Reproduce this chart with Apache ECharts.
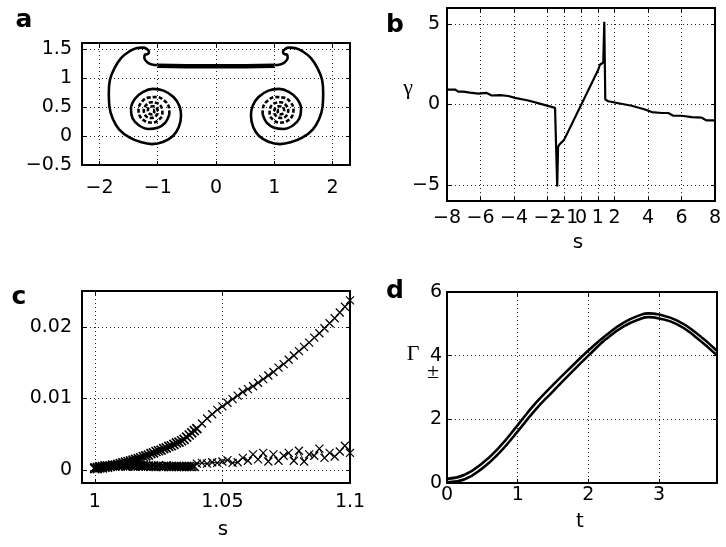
<!DOCTYPE html>
<html>
<head>
<meta charset="utf-8">
<script src="https://cdn.jsdelivr.net/npm/echarts@6.0.0/dist/echarts.min.js"></script>
<style>
  html, body { margin: 0; padding: 0; background: #fff; }
  #chart { width: 726px; height: 547px; }
</style>
</head>
<body>
<div id="chart"></div>
<script>
// ---- panel a: vortex sheet (left half, right half is its mirror image) ----
const sheetBar = [[-1.0, 1.21], [-0.5, 1.2], [0, 1.2], [0.5, 1.2], [1.0, 1.21]];
const leftArm = [
  [-1.0, 1.22], [-1.1, 1.23], [-1.18, 1.27], [-1.23, 1.34], [-1.22, 1.4], [-1.17, 1.41],
  [-1.15, 1.45], [-1.19, 1.5], [-1.26, 1.52], [-1.37, 1.51], [-1.48, 1.46], [-1.63, 1.34],
  [-1.74, 1.17], [-1.82, 0.97], [-1.84, 0.74], [-1.83, 0.51], [-1.77, 0.29], [-1.66, 0.11],
  [-1.48, -0.03], [-1.28, -0.11], [-1.1, -0.14], [-0.9, -0.1], [-0.74, 0.0], [-0.64, 0.15],
  [-0.6, 0.35], [-0.63, 0.52], [-0.73, 0.67], [-0.9, 0.78], [-1.08, 0.81], [-1.25, 0.76],
  [-1.39, 0.64], [-1.46, 0.47], [-1.43, 0.3], [-1.32, 0.18], [-1.16, 0.12], [-1.0, 0.14],
  [-0.87, 0.23], [-0.8, 0.37]
];
const leftCoil = [
  [-0.8, 0.37], [-0.81, 0.5], [-0.89, 0.61], [-1.02, 0.67], [-1.16, 0.66], [-1.28, 0.58],
  [-1.33, 0.45], [-1.3, 0.33], [-1.21, 0.25], [-1.09, 0.23], [-0.98, 0.28], [-0.92, 0.38],
  [-0.93, 0.48], [-1.0, 0.56], [-1.11, 0.58], [-1.2, 0.53], [-1.24, 0.44], [-1.21, 0.35],
  [-1.13, 0.31], [-1.05, 0.33], [-1.0, 0.4], [-1.01, 0.47], [-1.07, 0.51], [-1.14, 0.5],
  [-1.17, 0.44], [-1.14, 0.38], [-1.09, 0.37], [-1.06, 0.41], [-1.08, 0.45], [-1.11, 0.44],
  [-1.11, 0.43]
];
const aTicksX = [-2, -1, 0, 1, 2];
const aTicksY = [-0.5, 0, 0.5, 1, 1.5];

// ---- panel b: gamma(s) ----
const gammaS = [-8, -7.52, -7.33, -7.03, -6.63, -6.13, -5.63, -5.33, -4.84, -4.34, -3.94, -3.15,
  -2.35, -1.55, -1.45, -1.42, -1.37, -1.3, -1.21, -1.01, 1.03, 1.13, 1.33, 1.37, 1.39, 1.45,
  1.63, 2.23, 3.03, 3.82, 4.22, 4.82, 5.21, 5.51, 6.01, 6.61, 7.21, 7.5, 8];
const gammaV = [0.93, 0.93, 0.8, 0.8, 0.74, 0.68, 0.72, 0.56, 0.58, 0.53, 0.41, 0.25,
  0.02, -0.21, -0.26, -5.1, -2.65, -2.5, -2.41, -2.2, 2.16, 2.47, 2.61, 2.65, 5.14, 0.31,
  0.2, 0.08, -0.08, -0.31, -0.47, -0.53, -0.53, -0.7, -0.7, -0.78, -0.82, -0.99, -0.99];
const bTicksX = [-8, -6, -4, -2, -1, 0, 1, 2, 4, 6, 8];
const bTicksY = [-5, 0, 5];

// ---- panel c: two error curves vs s (fine steps up to 1.04, coarse after) ----
const cS = [1.000, 1.001, 1.002, 1.003, 1.004, 1.005, 1.006, 1.007, 1.008, 1.009,
  1.010, 1.011, 1.012, 1.013, 1.014, 1.015, 1.016, 1.017, 1.018, 1.019,
  1.020, 1.021, 1.022, 1.023, 1.024, 1.025, 1.026, 1.027, 1.028, 1.029,
  1.030, 1.031, 1.032, 1.033, 1.034, 1.035, 1.036, 1.037, 1.038, 1.039, 1.040,
  1.042, 1.044, 1.046, 1.048, 1.050, 1.052, 1.054, 1.056, 1.058, 1.060,
  1.062, 1.064, 1.066, 1.068, 1.070, 1.072, 1.074, 1.076, 1.078, 1.080,
  1.082, 1.084, 1.086, 1.088, 1.090, 1.092, 1.094, 1.096, 1.098, 1.100];
const cUpper = [0.0002, 0.0002, 0.0003, 0.0003, 0.0004, 0.0004, 0.0005, 0.0006, 0.0007, 0.0008,
  0.0009, 0.0010, 0.0011, 0.0012, 0.0013, 0.0014, 0.0015, 0.0016, 0.0017, 0.0019,
  0.0020, 0.0021, 0.0023, 0.0024, 0.0026, 0.0027, 0.0028, 0.0030, 0.0031, 0.0033,
  0.0034, 0.0036, 0.0038, 0.0039, 0.0041, 0.0043, 0.0046, 0.0049, 0.0052, 0.0055, 0.0058,
  0.0065, 0.0072, 0.0078, 0.0084, 0.0089, 0.0094, 0.0099, 0.0104, 0.0109, 0.0113,
  0.0117, 0.0122, 0.0127, 0.0132, 0.0137, 0.0143, 0.0148, 0.0154, 0.0160, 0.0166,
  0.0172, 0.0178, 0.0185, 0.0191, 0.0198, 0.0205, 0.0212, 0.0220, 0.0228, 0.0237];
const cLower = [0.0003, 0.0004, 0.0005, 0.0005, 0.0006, 0.0006, 0.0006, 0.0007, 0.0006, 0.0007,
  0.0006, 0.0007, 0.0006, 0.0006, 0.0007, 0.0006, 0.0006, 0.0006, 0.0006, 0.0006,
  0.0006, 0.0006, 0.0005, 0.0006, 0.0005, 0.0006, 0.0005, 0.0005, 0.0006, 0.0005,
  0.0005, 0.0005, 0.0005, 0.0005, 0.0005, 0.0005, 0.0005, 0.0005, 0.0005, 0.0005, 0.0009,
  0.0010, 0.0009, 0.0011, 0.0010, 0.0012, 0.0014, 0.0010, 0.0011, 0.0017, 0.0013,
  0.0022, 0.0015, 0.0024, 0.0012, 0.0022, 0.0013, 0.0020, 0.0024, 0.0013, 0.0027,
  0.0012, 0.0022, 0.0020, 0.0030, 0.0017, 0.0024, 0.0019, 0.0026, 0.0034, 0.0024];
const cFineEnd = 41; // first 41 samples use the fine step
const cTicksX = [1, 1.05, 1.1];
const cTicksY = [0, 0.01, 0.02];

// ---- panel d: Gamma_+ and Gamma_- vs t ----
const dT = [0, 0.25, 0.5, 0.75, 1, 1.25, 1.5, 1.75, 2, 2.25, 2.5, 2.75, 2.85, 3, 3.25, 3.5, 3.82];
const gammaPlus = [0.13, 0.26, 0.62, 1.15, 1.82, 2.5, 3.08, 3.63, 4.16, 4.64, 5.04, 5.29, 5.33, 5.29, 5.11, 4.76, 4.15];
const gammaMinus = [0.02, 0.12, 0.46, 0.97, 1.62, 2.3, 2.88, 3.45, 4.0, 4.52, 4.92, 5.17, 5.21, 5.17, 4.99, 4.62, 4.01];
const dTicksX = [0, 1, 2, 3];
const dTicksY = [0, 2, 4, 6];

const zip = (xs, ys) => xs.map((x, i) => [x, ys[i]]);
const mirror = pts => pts.map(([x, y]) => [-x, y]);

const FONT = 'DejaVu Sans';
const minus = v => String(v).replace('-', '\u2212');

function axis(grid, pos, min, max, ticks, withLabels, margin) {
  return {
    type: 'value', gridIndex: grid, position: pos, min: min, max: max,
    axisLine: { show: true, onZero: false, lineStyle: { color: '#000', width: 2 } },
    axisTick: { show: true, inside: true, length: 4, customValues: ticks,
      lineStyle: { color: '#000', width: 1 } },
    axisLabel: { show: withLabels, customValues: ticks, formatter: minus, margin: margin,
      fontFamily: FONT, fontSize: 19, color: '#000' },
    splitLine: { show: withLabels, lineStyle: { color: '#222', width: 1, type: [1, 3] } }
  };
}

const grids = [
  { left: 82, top: 43, width: 268, height: 122 },
  { left: 447, top: 8, width: 268, height: 193 },
  { left: 82, top: 291, width: 268, height: 192 },
  { left: 447, top: 292, width: 270, height: 191 }
];

const xAxes = [
  axis(0, 'bottom', -2.3, 2.3, aTicksX, true, 14), axis(0, 'top', -2.3, 2.3, aTicksX, false, 0),
  axis(1, 'bottom', -8, 8, bTicksX, true, 8), axis(1, 'top', -8, 8, bTicksX, false, 0),
  axis(2, 'bottom', 0.995, 1.1, cTicksX, true, 10), axis(2, 'top', 0.995, 1.1, cTicksX, false, 0),
  axis(3, 'bottom', 0, 3.82, dTicksX, true, 3), axis(3, 'top', 0, 3.82, dTicksX, false, 0)
];
const yAxes = [
  axis(0, 'left', -0.5, 1.6, aTicksY, true, 10), axis(0, 'right', -0.5, 1.6, aTicksY, false, 0),
  axis(1, 'left', -6, 6, bTicksY, true, 7), axis(1, 'right', -6, 6, bTicksY, false, 0),
  axis(2, 'left', -0.0018, 0.025, cTicksY, true, 10), axis(2, 'right', -0.0018, 0.025, cTicksY, false, 0),
  axis(3, 'left', 0, 6, dTicksY, true, 5), axis(3, 'right', 0, 6, dTicksY, false, 0)
];

function curve(panel, data, width, extra) {
  return Object.assign({
    type: 'line', xAxisIndex: panel * 2, yAxisIndex: panel * 2, data: data,
    showSymbol: false, symbol: 'none', animation: false, silent: true,
    lineStyle: { color: '#000', width: width }
  }, extra || {});
}

const cross = 'path://M0 0L10 10M10 0L0 10';
function marked(panel, data, size, stroke, lineW) {
  return {
    type: 'line', xAxisIndex: panel * 2, yAxisIndex: panel * 2, data: data,
    symbol: cross, symbolSize: size, showSymbol: true, showAllSymbol: true,
    animation: false, silent: true,
    itemStyle: { color: 'rgba(0,0,0,0)', borderColor: '#000', borderWidth: stroke },
    lineStyle: { color: '#000', width: lineW }
  };
}

function txt(x, y, s, font) {
  return { type: 'text', x: x, y: y, style: Object.assign({ text: s, fill: '#000',
    align: 'center', verticalAlign: 'middle' }, font) };
}
const tag = { font: 'bold 25px "DejaVu Sans"' };
const lbl = { font: '20px "DejaVu Sans"' };
const greek = { font: '22px "Liberation Serif"' };
const coilLine = { color: '#000', width: 2.6, type: [4, 2] };

const upperPts = zip(cS, cUpper);
const lowerPts = zip(cS, cLower);

const option = {
  animation: false,
  grid: grids,
  xAxis: xAxes,
  yAxis: yAxes,
  series: [
    curve(0, sheetBar, 4.5),
    curve(0, leftArm, 2.6, { smooth: 0.4 }),
    curve(0, leftCoil, 2.6, { smooth: 0.4, lineStyle: coilLine }),
    curve(0, mirror(leftArm), 2.6, { smooth: 0.4 }),
    curve(0, mirror(leftCoil), 2.6, { smooth: 0.4, lineStyle: coilLine }),
    curve(1, zip(gammaS, gammaV), 2.2),
    marked(2, upperPts.slice(0, cFineEnd), 9, 1.7, 3),
    marked(2, upperPts.slice(cFineEnd - 1), 8, 1.2, 1),
    marked(2, lowerPts.slice(0, cFineEnd - 1), 9, 1.7, 3),
    marked(2, lowerPts.slice(cFineEnd - 1), 8, 1.2, 1),
    curve(3, zip(dT, gammaPlus), 2.6, { smooth: true }),
    curve(3, zip(dT, gammaMinus), 2.6, { smooth: true })
  ],
  graphic: [
    txt(24, 20, 'a', tag), txt(395, 25, 'b', tag), txt(19, 297, 'c', tag), txt(395, 291, 'd', tag),
    txt(408, 88, '\u03b3', greek),
    txt(578, 243, 's', lbl),
    txt(223, 530, 's', lbl),
    txt(580, 522, 't', lbl),
    txt(413, 354, '\u0393', greek),
    txt(433, 372, '\u00b1', { font: '22px "Liberation Serif"' })
  ]
};

const chart = echarts.init(document.getElementById('chart'), null, { renderer: 'canvas' });
chart.setOption(option);
</script>
</body>
</html>
